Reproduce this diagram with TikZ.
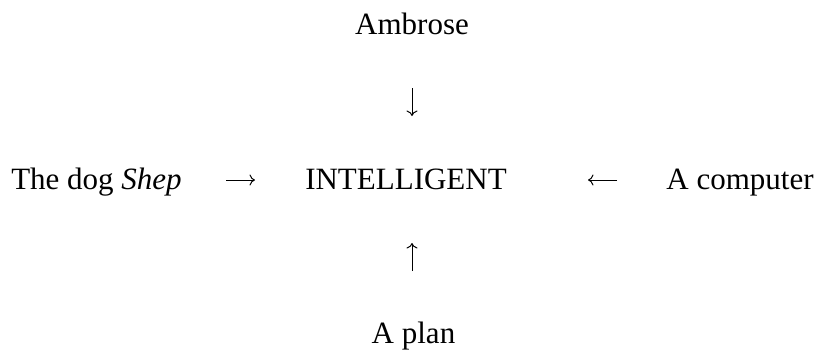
\documentclass[tikz,border=0pt]{standalone}
\usepackage{fontspec}
\setmainfont{Liberation Serif}
\usetikzlibrary{arrows.meta}
\begin{document}
\begin{tikzpicture}[x=1pt,y=-1pt,
  lbl/.style={inner sep=0pt, anchor=base, font=\fontsize{31}{36}\selectfont},
  arr/.style={line width=1pt, -{To[length=5.5pt,width=11pt,line width=1pt]}}]
\useasboundingbox (0,0) rectangle (819,349);
\node[lbl] (amb) at (412,34) {Ambrose};
\node[lbl] (shep) at (96.5,189.5) {The dog \textit{Shep}};
\node[lbl] (int) at (406,189.5) {INTELLIGENT};
\node[lbl] (comp) at (740,189.5) {A computer};
\node[lbl] (plan) at (413.5,343) {A plan};
% vertical arrows
\draw[arr, shorten <=54pt, shorten >=73.5pt] (amb.base) -- (amb.base |- int.base);
\draw[arr, shorten <=72pt, shorten >=53.5pt] ([xshift=-1.5pt]plan.base) -- ([xshift=-1.5pt]plan.base |- int.base);
% horizontal arrows
\draw[arr, shorten <=129.5pt, shorten >=151pt] ([yshift=9.5pt]shep.base) -- ([yshift=9.5pt]int.base);
\draw[arr, shorten <=123pt, shorten >=182pt] ([yshift=9.5pt]comp.base) -- ([yshift=9.5pt]int.base);
\end{tikzpicture}
\end{document}
